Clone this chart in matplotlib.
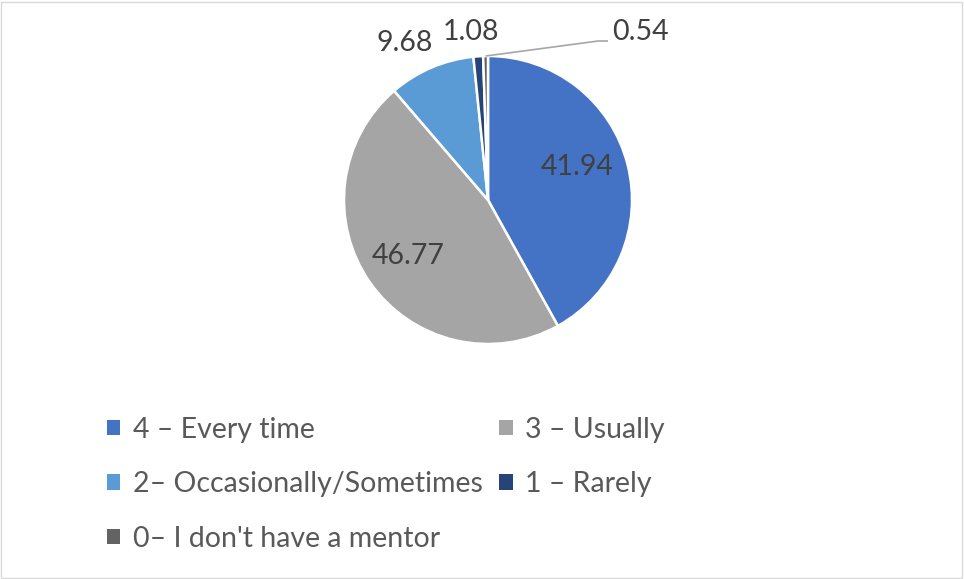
import matplotlib
matplotlib.use("Agg")
import matplotlib.pyplot as plt
from matplotlib.patches import Rectangle
import numpy as np

categories = ["4 – Every time", "3 – Usually", "2– Occasionally/Sometimes",
              "1 – Rarely", "0– I don't have a mentor"]
values = [41.94, 46.77, 9.68, 1.08, 0.54]
colors = ["#4472C4", "#A5A5A5", "#5B9BD5", "#264478", "#636363"]

plt.rcParams['font.family'] = ['Lato', 'DejaVu Sans']

W, H = 964, 579
fig = plt.figure(figsize=(W / 100, H / 100), dpi=100)
ax = fig.add_axes([0, 0, 1, 1])
cx, cy, R = 488, 200, 144

wedges, _ = ax.pie(values, colors=colors, startangle=90, counterclock=False,
                   radius=1, wedgeprops=dict(edgecolor="white", linewidth=1.8))
ax.set_xlim((0 - cx) / R, (W - cx) / R)
ax.set_ylim((cy - H) / R, (cy - 0) / R)
ax.set_aspect('auto')
ax.axis('off')

lab_color = "#404040"
fs_lab = 20.5
# inside labels
for i, dist, ang_deg in [(0, 0.66, 20), (1, 0.68, None)]:
    w = wedges[i]
    a = (w.theta1 + w.theta2) / 2 if ang_deg is None else ang_deg
    a = np.deg2rad(a)
    ax.text(dist * np.cos(a), dist * np.sin(a), f"{values[i]:.2f}",
            ha='center', va='center', fontsize=fs_lab, color=lab_color)

# outside labels
ax.text(-0.58, 1.09, f"{values[2]:.2f}", ha='center', va='center',
        fontsize=fs_lab, color=lab_color)
ax.text(-0.118, 1.167, f"{values[3]:.2f}", ha='center', va='center',
        fontsize=fs_lab, color=lab_color)
w = wedges[4]
a = np.deg2rad((w.theta1 + w.theta2) / 2)
ax.plot([np.cos(a), 0.764, 0.833], [np.sin(a), 1.104, 1.104],
        color="#A6A6A6", lw=1.2, solid_capstyle='butt')
ax.text(0.861, 1.167, f"{values[4]:.2f}", ha='left', va='center',
        fontsize=fs_lab, color=lab_color)

# legend (row-major order)
order = [0, 2, 4, 1, 3]
leg = fig.legend([wedges[i] for i in order], [categories[i] for i in order],
                 ncol=2, loc='upper left', bbox_to_anchor=(81 / W, 1 - 391 / H),
                 frameon=False, fontsize=20.5, labelcolor="#595959",
                 handlelength=0.46, handleheight=0.46, handletextpad=0.45,
                 columnspacing=0.6, labelspacing=1.0, borderpad=0.4)
for h in leg.legend_handles:
    h.set_edgecolor('none')

fig.patches.append(Rectangle((1 / W, 1 / H), (W - 3) / W, (H - 3) / H,
                             transform=fig.transFigure, fill=False,
                             edgecolor="#D9D9D9", lw=1))
fig.savefig("out.png", dpi=100)
